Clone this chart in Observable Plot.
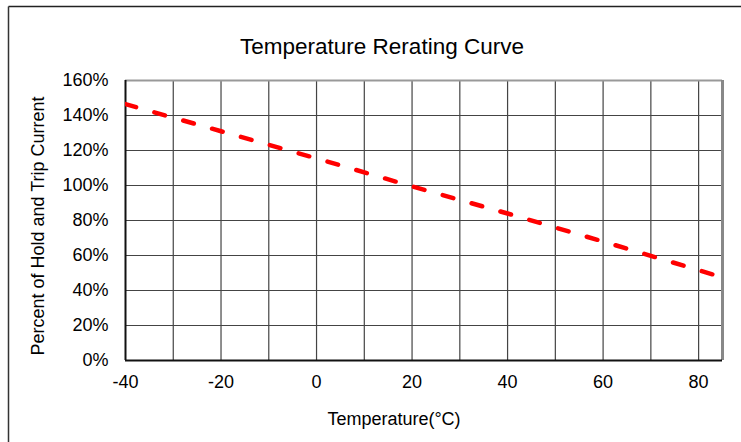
<!DOCTYPE html>
<html>
<head>
<meta charset="utf-8">
<script src="https://cdn.jsdelivr.net/npm/d3@7"></script>
<script src="https://cdn.jsdelivr.net/npm/@observablehq/plot@0.6"></script>
<style>
  html, body { margin: 0; padding: 0; background: #fff; }
  #chart svg { display: block; font-family: "Liberation Sans", Arial, sans-serif; }
</style>
</head>
<body>
<div id="chart"></div>
<script>
const temps = [-40, -20, 0, 20, 40, 60, 85];
const percents = [146.5, 131, 115.5, 99.5, 84, 68, 47.5];
const xTicks = [-40, -20, 0, 20, 40, 60, 80];
const xGrid = [-30, -20, -10, 0, 10, 20, 30, 40, 50, 60, 70, 80];
const yTicks = [0, 20, 40, 60, 80, 100, 120, 140, 160];
const yGrid = [20, 40, 60, 80, 100, 120, 140];
const title = "Temperature Rerating Curve";
const xLabel = "Temperature(°C)";
const yLabel = "Percent of Hold and Trip Current";

const data = temps.map((t, i) => ({t, p: percents[i]}));

const W = 741, H = 442;
const chart = Plot.plot({
  width: W,
  height: H,
  marginLeft: 125,
  marginRight: 19,
  marginTop: 80,
  marginBottom: 82,
  style: {fontFamily: "Liberation Sans, Arial, sans-serif", fontSize: "18px", color: "#000", background: "#fff", overflow: "visible"},
  x: {domain: [-40, 85], label: null},
  y: {domain: [0, 160], label: null},
  marks: [
    Plot.ruleX(xGrid, {stroke: "#444", strokeWidth: 1.2}),
    Plot.ruleY(yGrid, {stroke: "#444", strokeWidth: 1.2}),
    Plot.ruleY([160], {stroke: "#999", strokeWidth: 2}),
    Plot.ruleX([85], {stroke: "#888", strokeWidth: 3}),
    Plot.ruleY([0], {stroke: "#111", strokeWidth: 2}),
    Plot.ruleX([-40], {stroke: "#111", strokeWidth: 2}),
    Plot.axisX({ticks: xTicks, tickSize: 0, tickPadding: 15, tickFormat: d => String(d), fontSize: 18, fill: "#000", label: null}),
    Plot.axisY({ticks: yTicks, tickSize: 0, tickPadding: 17, tickFormat: d => d + "%", fontSize: 18, fill: "#000", label: null}),
    Plot.line(data, {x: "t", y: "p", stroke: "#ff0000", strokeWidth: 4.5, strokeDasharray: "11,19", strokeLinecap: "round", clip: true})
  ]
});

const svg = d3.select(chart);
svg.append("text")
  .attr("x", 382).attr("y", 54)
  .attr("text-anchor", "middle")
  .attr("font-size", 22.5)
  .attr("fill", "#000")
  .text(title);
svg.append("text")
  .attr("x", 394).attr("y", 425)
  .attr("text-anchor", "middle")
  .attr("font-size", 18)
  .attr("fill", "#000")
  .text(xLabel);
svg.append("text")
  .attr("transform", "translate(44,226) rotate(-90)")
  .attr("text-anchor", "middle")
  .attr("font-size", 18)
  .attr("fill", "#000")
  .text(yLabel);
// outer frame (top and left)
svg.append("line").attr("x1", 8.5).attr("y1", 6.5).attr("x2", W).attr("y2", 6.5).attr("stroke", "#222").attr("stroke-width", 1.5);
svg.append("line").attr("x1", 8.5).attr("y1", 6.5).attr("x2", 8.5).attr("y2", H).attr("stroke", "#333").attr("stroke-width", 1.5);

document.getElementById("chart").appendChild(chart);
</script>
</body>
</html>
